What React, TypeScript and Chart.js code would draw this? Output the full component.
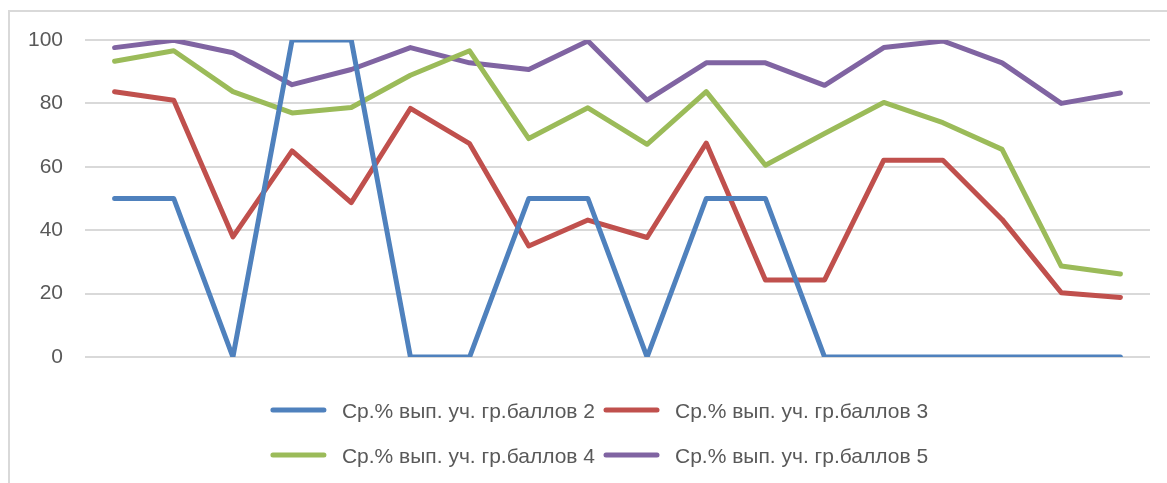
import { useEffect, useRef } from 'react';
import { Chart, registerables } from 'chart.js';

Chart.register(...registerables);

const categories = ['1', '2', '3', '4', '5', '6', '7', '8', '9', '10', '11', '12', '13', '14', '15', '16', '17', '18'];

const seriesNames = [
  'Ср.% вып. уч. гр.баллов 2',
  'Ср.% вып. уч. гр.баллов 3',
  'Ср.% вып. уч. гр.баллов 4',
  'Ср.% вып. уч. гр.баллов 5',
];

const score2 = [50, 50, 0, 100, 100, 0, 0, 50, 50, 0, 50, 50, 0, 0, 0, 0, 0, 0];
const score3 = [83.7, 81.0, 37.9, 65.0, 48.7, 78.4, 67.3, 35.0, 43.2, 37.7, 67.5, 24.3, 24.3, 62.1, 62.1, 43.4, 20.3, 18.8];
const score4 = [93.3, 96.6, 83.7, 77.0, 78.7, 88.9, 96.6, 68.9, 78.6, 67.1, 83.7, 60.5, 70.5, 80.3, 73.9, 65.5, 28.7, 26.2];
const score5 = [97.6, 99.9, 96.0, 85.9, 90.7, 97.6, 92.8, 90.7, 99.7, 81.0, 92.8, 92.8, 85.7, 97.6, 99.7, 92.8, 80.0, 83.3];

const yTicks = [0, 20, 40, 60, 80, 100];

const colors = ['#4F81BD', '#C0504D', '#9BBB59', '#8064A2'];
const FONT = '"Liberation Sans", Arial, sans-serif';
const TEXT = '#595959';

export default function App() {
  const ref = useRef<HTMLCanvasElement>(null);

  useEffect(() => {
    if (!ref.current) return;
    const legendPlugin = {
      id: 'gridLegend',
      afterDraw(chart: any) {
        const ctx = chart.ctx as CanvasRenderingContext2D;
        const dsets = chart.data.datasets;
        ctx.save();
        ctx.font = `21px ${FONT}`;
        const lineLen = 55;
        const gap = 16;
        const itemGap = 9;
        const widths = dsets.map((d: any) => ctx.measureText(d.label).width);
        const colW = Math.max(...widths) + lineLen + gap;
        const total = colW * 2 + itemGap;
        const cx = (chart.chartArea.left + chart.chartArea.right) / 2 - 18;
        const startX = cx - total / 2;
        const rowY = [chart.chartArea.bottom + 53, chart.chartArea.bottom + 98];
        dsets.forEach((d: any, i: number) => {
          const row = Math.floor(i / 2);
          const col = i % 2;
          const x = startX + col * (colW + itemGap);
          const y = rowY[row];
          ctx.beginPath();
          ctx.strokeStyle = d.borderColor;
          ctx.lineWidth = 5;
          ctx.lineCap = 'round';
          ctx.moveTo(x + 2, y);
          ctx.lineTo(x + lineLen - 2, y);
          ctx.stroke();
          ctx.fillStyle = TEXT;
          ctx.textBaseline = 'alphabetic';
          ctx.textAlign = 'left';
          ctx.fillText(d.label, x + lineLen + gap, y + 7.5);
        });
        ctx.restore();
      },
    };

    const series = [score2, score3, score4, score5];
    const chart = new Chart(ref.current, {
      type: 'line',
      data: {
        labels: categories,
        datasets: series.map((data, i) => ({
          label: seriesNames[i],
          data,
          borderColor: colors[i],
          backgroundColor: colors[i],
          borderWidth: 5,
          borderCapStyle: 'round',
          borderJoinStyle: 'round',
          pointRadius: 0,
          pointHoverRadius: 0,
          tension: 0,
          fill: false,
        })),
      },
      options: {
        responsive: false,
        animation: false,
        layout: { padding: { left: 0, top: 40, right: 17, bottom: 126 } },
        plugins: {
          legend: { display: false },
          tooltip: { enabled: false },
          title: { display: false },
        },
        scales: {
          x: {
            type: 'category',
            display: false,
            offset: true,
          },
          y: {
            min: 0,
            max: 100,
            afterFit: (scale: any) => {
              scale.width = 85;
            },
            afterBuildTicks: (scale: any) => {
              scale.ticks = yTicks.map((v) => ({ value: v }));
            },
            border: { display: false },
            grid: {
              color: '#D9D9D9',
              lineWidth: 2,
              drawTicks: false,
            },
            ticks: {
              padding: 22,
              color: TEXT,
              font: { family: FONT, size: 21 },
            },
          },
        },
      },
      plugins: [legendPlugin],
    } as any);
    return () => chart.destroy();
  }, []);

  return (
    <div
      style={{
        position: 'absolute',
        left: 0,
        top: 0,
        width: 1167,
        height: 483,
        overflow: 'hidden',
        background: '#fff',
      }}
    >
      <div
        style={{
          position: 'absolute',
          left: 8,
          top: 10,
          width: 1200,
          height: 500,
          borderLeft: '2px solid #D9D9D9',
          borderTop: '2px solid #D9D9D9',
        }}
      />
      <canvas
        ref={ref}
        width={1167}
        height={483}
        style={{ position: 'absolute', left: 0, top: 0, width: 1167, height: 483 }}
      />
    </div>
  );
}
